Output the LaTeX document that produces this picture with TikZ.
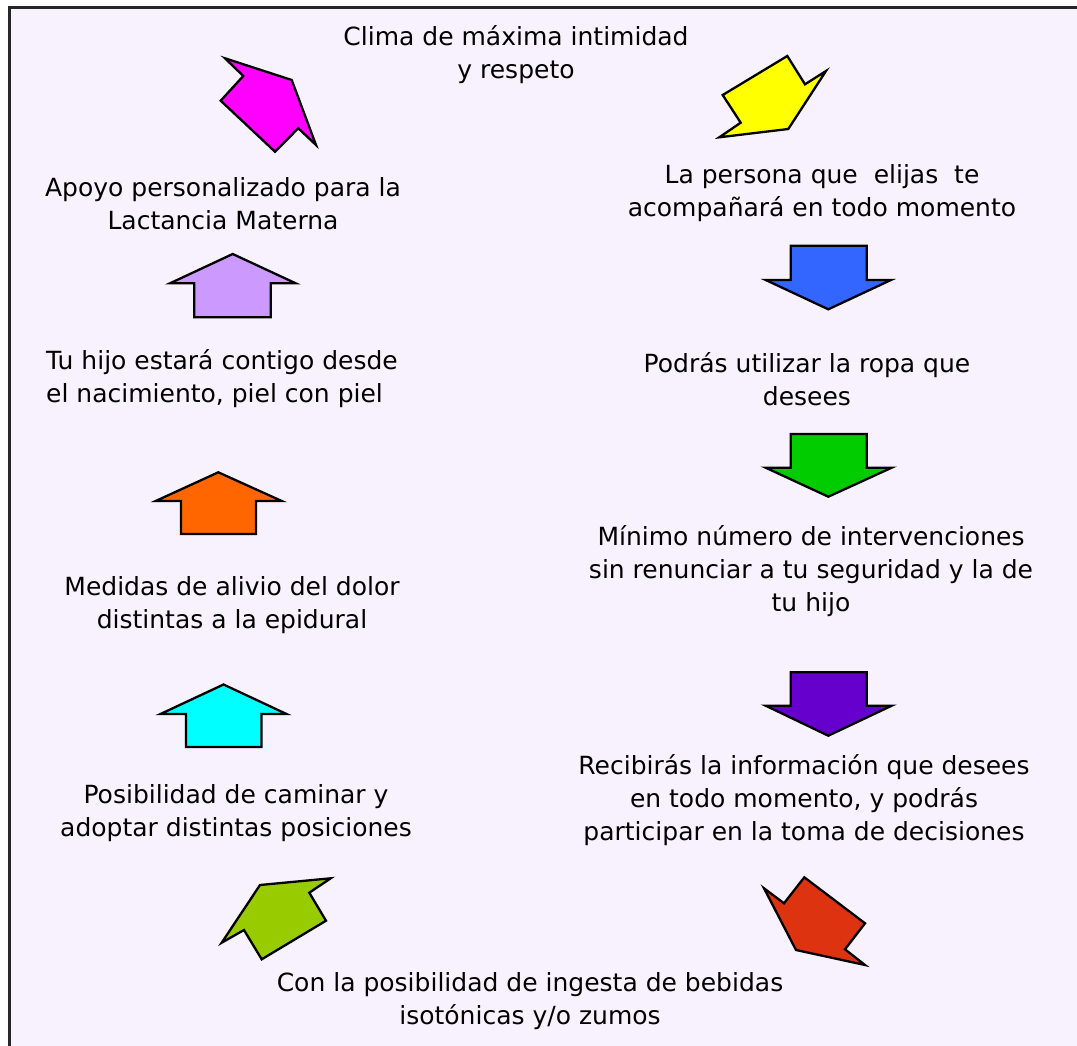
\documentclass[tikz,border=0pt]{standalone}
\usepackage{fontspec}
\setmainfont{DejaVu Sans}
\begin{document}
\begin{tikzpicture}[x=1pt,y=-1pt,
  arr/.style={draw=black,line width=2.3pt,line join=miter},
  lbl/.style={align=center,font=\fontsize{25}{33}\selectfont,text=black,inner sep=0pt}]
\definecolor{bg}{HTML}{F7F2FD}
\definecolor{cmag}{HTML}{FF00FF}
\definecolor{cyel}{HTML}{FFFF00}
\definecolor{cblue}{HTML}{3366FF}
\definecolor{cgreen}{HTML}{00CC00}
\definecolor{cpurp}{HTML}{6600CC}
\definecolor{cred}{HTML}{DD3311}
\definecolor{cyg}{HTML}{99CC00}
\definecolor{ccyan}{HTML}{00FFFF}
\definecolor{corange}{HTML}{FF6600}
\definecolor{clav}{HTML}{CC99FF}
\useasboundingbox (0,0) rectangle (1077,1046);
\fill[white] (0,0) rectangle (1077,1046);
\fill[bg] (9.5,8) rectangle (1077,1046);
\draw[line width=3pt,color=black!85] (9.5,1050) -- (9.5,8) -- (1080,8);

% arrows
\draw[arr,fill=cmag] (225,58.3) -- (291.7,80) -- (316,145) -- (298.3,128.3) -- (275,151.7) -- (220.7,100.7) -- (243.3,76) -- cycle;
\draw[arr,fill=cyel] (722.7,95) -- (787.3,56) -- (805,84.3) -- (826,71) -- (788.3,129) -- (719.3,137.3) -- (740.7,122.7) -- cycle;
\draw[arr,fill=cblue] (790.7,245.7) -- (866.7,245.7) -- (866.7,280) -- (891,280) -- (828.3,309.3) -- (765.7,280) -- (790.7,280) -- cycle;
\draw[arr,fill=cgreen] (790.7,434) -- (866.7,434) -- (866.7,467.7) -- (891.7,467.7) -- (828.3,496.7) -- (765.7,467.7) -- (790.7,467.7) -- cycle;
\draw[arr,fill=cpurp] (790.7,672.3) -- (866.7,672.3) -- (866.7,705.7) -- (891.7,705.7) -- (828.3,735.7) -- (765.7,705.7) -- (790.7,705.7) -- cycle;
\draw[arr,fill=cred] (764,888.3) -- (784,903.3) -- (804.3,877.3) -- (865,923.3) -- (845,949.3) -- (865,965) -- (796,950) -- cycle;
\draw[arr,fill=cyg] (260,885) -- (330.7,878.3) -- (309.3,892.7) -- (326,920.7) -- (261.7,959.3) -- (244,930) -- (221.7,942.7) -- cycle;
\draw[arr,fill=ccyan] (223.5,684.5) -- (286.5,714) -- (261.5,714) -- (261.5,747) -- (186,747) -- (186,714) -- (160.5,714) -- cycle;
\draw[arr,fill=corange] (218.3,472.3) -- (281.7,501) -- (256,501) -- (256,534) -- (181,534) -- (181,501) -- (155.7,501) -- cycle;
\draw[arr,fill=clav] (232.7,254) -- (295.7,283.3) -- (270.7,283.3) -- (270.7,317.3) -- (194.3,317.3) -- (194.3,283.3) -- (170,283.3) -- cycle;

% labels
\node[lbl] (t1) at (516,55) {Clima de máxima intimidad\\y respeto};
\node[lbl] (t2) at (822,193) {La persona que\ \ elijas\ \ te\\acompañará en todo momento};
\node[lbl] (t3) at (807,379) {Podrás utilizar la ropa que\\desees};
\node[lbl] (t4) at (811,571) {Mínimo número de intervenciones\\sin renunciar a tu seguridad y la de\\tu hijo};
\node[lbl] (t5) at (804,800) {Recibirás la información que desees\\en todo momento, y podrás\\participar en la toma de decisiones};
\node[lbl] (t6) at (530,1001) {Con la posibilidad de ingesta de bebidas\\isotónicas y/o zumos};
\node[lbl] (t7) at (236,813) {Posibilidad de caminar y\\adoptar distintas posiciones};
\node[lbl] (t8) at (232,605) {Medidas de alivio del dolor\\distintas a la epidural};
\node[lbl,align=left,anchor=west] (t9) at (46,379) {Tu hijo estará contigo desde\\el nacimiento, piel con piel};
\node[lbl] (t10) at (223,204) {Apoyo personalizado para la\\Lactancia Materna};
\end{tikzpicture}
\end{document}
